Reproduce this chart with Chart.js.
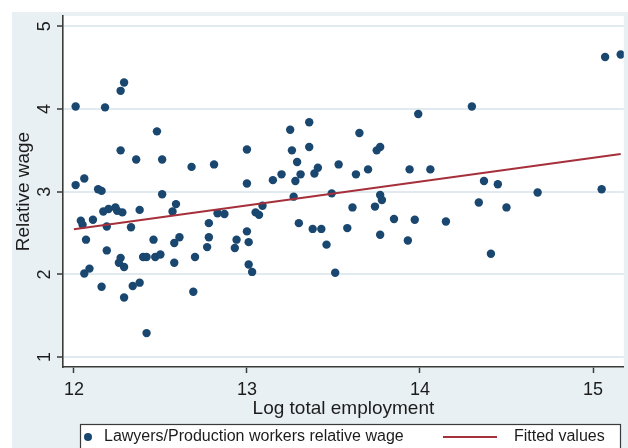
<!DOCTYPE html>
<html>
<head>
<meta charset="utf-8">
<title>Relative wage and city size</title>
<script src="https://cdn.jsdelivr.net/npm/chart.js@4.4.1/dist/chart.umd.min.js"></script>
<style>
  html, body { margin: 0; padding: 0; background: #ffffff; }
  #wrap { width: 628px; height: 448px; }
</style>
</head>
<body>
<div id="wrap"><canvas id="c" width="628" height="448"></canvas></div>
<script>
// Log total employment (x) and lawyers/production workers relative wage (y)
const logEmployment = [
  12.01, 12.18, 12.27, 12.29, 12.48, 12.27, 12.36, 12.51, 12.68, 12.81,
  12.01, 12.06, 12.14, 12.16, 12.51, 13.00, 13.00, 13.15, 13.20, 13.25,
  13.36, 13.26, 13.36, 13.29, 13.31, 13.28, 13.39, 13.41, 13.27, 13.53,
  13.49, 13.63, 13.65, 13.70, 13.75, 13.77, 13.77, 13.78, 13.94, 13.99,
  14.06, 14.30, 14.37, 14.45, 14.68, 15.05, 15.07, 15.16, 13.97, 13.93,
  14.15, 14.34, 14.50, 14.41, 13.61, 13.74, 13.85, 13.58, 13.77, 13.51,
  13.05, 13.07, 13.09, 13.30, 13.38, 13.43, 13.46, 13.00, 13.01, 13.01,
  13.03, 12.83, 12.87, 12.78, 12.78, 12.77, 12.94, 12.93, 12.70, 12.04,
  12.05, 12.11, 12.07, 12.06, 12.09, 12.17, 12.20, 12.24, 12.25, 12.28,
  12.19, 12.38, 12.33, 12.19, 12.27, 12.26, 12.29, 12.16, 12.29, 12.34,
  12.38, 12.40, 12.42, 12.42, 12.46, 12.47, 12.50, 12.58, 12.61, 12.58,
  12.57, 12.59, 12.69
];
const relativeWage = [
  4.03, 4.02, 4.22, 4.32, 3.73, 3.50, 3.39, 3.39, 3.30, 3.33,
  3.08, 3.16, 3.03, 3.01, 2.97, 3.51, 3.10, 3.14, 3.21, 3.75,
  3.84, 3.50, 3.54, 3.36, 3.21, 3.13, 3.22, 3.29, 2.94, 3.33,
  2.98, 3.21, 3.71, 3.27, 3.50, 3.54, 2.96, 2.90, 3.27, 3.94,
  3.27, 4.03, 3.13, 3.09, 2.99, 3.03, 4.63, 4.66, 2.66, 2.41,
  2.64, 2.87, 2.81, 2.25, 2.81, 2.82, 2.67, 2.56, 2.48, 2.02,
  2.75, 2.72, 2.83, 2.62, 2.55, 2.55, 2.36, 2.52, 2.39, 2.12,
  2.03, 2.74, 2.73, 2.62, 2.45, 2.33, 2.42, 2.32, 2.21, 2.65,
  2.60, 2.66, 2.42, 2.01, 2.07, 2.76, 2.79, 2.81, 2.77, 2.75,
  2.58, 2.78, 2.57, 2.29, 2.20, 2.14, 2.09, 1.85, 1.72, 1.86,
  1.90, 2.21, 2.21, 1.29, 2.42, 2.21, 2.24, 2.38, 2.45, 2.14,
  2.76, 2.85, 1.79
];

// Fitted values: endpoints of the least-squares line
const fitX = [12.0, 15.16];
const fitY = [2.545, 3.455];

// Axis ticks
const xTicks = [12, 13, 14, 15];
const yTicks = [1, 2, 3, 4, 5];

const seriesLabels = ['Lawyers/Production workers relative wage', 'Fitted values'];

const FONT = '"Liberation Sans", Arial, Helvetica, sans-serif';
const NAVY = '#1a476f';
const MAROON = '#a5303b';
const REGION = '#e8f0f3';
const GRID = '#e1eaef';
const INK = '#1c1c1c';
const AXIS = '#3a3a3a';

const scatterPoints = logEmployment.map((x, i) => ({ x: x, y: relativeWage[i] }));
const fitPoints = fitX.map((x, i) => ({ x: x, y: fitY[i] }));

// Graph region and plot region backgrounds
const backgroundPlugin = {
  id: 'regions',
  beforeDraw(chart) {
    const { ctx, chartArea } = chart;
    ctx.save();
    ctx.fillStyle = '#ffffff';
    ctx.fillRect(0, 0, chart.width, chart.height);
    ctx.fillStyle = REGION;
    ctx.fillRect(12, 12, chart.width - 12, chart.height - 12);
    ctx.fillStyle = '#ffffff';
    ctx.fillRect(chartArea.left, chartArea.top, chartArea.right - chartArea.left, chartArea.bottom - chartArea.top);
    ctx.restore();
  }
};

// Rotated y tick labels and the boxed legend
const labelsPlugin = {
  id: 'labels',
  afterDraw(chart) {
    const { ctx } = chart;
    const yScale = chart.scales.y;
    ctx.save();
    ctx.fillStyle = INK;
    ctx.font = '18px ' + FONT;
    ctx.textAlign = 'center';
    ctx.textBaseline = 'middle';
    yTicks.forEach(v => {
      const py = yScale.getPixelForValue(v);
      ctx.save();
      ctx.translate(45, py);
      ctx.rotate(-Math.PI / 2);
      ctx.fillText(String(v), 0, 0);
      ctx.restore();
    });

    // legend box
    const boxL = 80, boxT = 424, boxR = 620, boxB = 470;
    ctx.fillStyle = '#ffffff';
    ctx.fillRect(boxL, boxT, boxR - boxL, boxB - boxT);
    ctx.strokeStyle = AXIS;
    ctx.lineWidth = 1.2;
    ctx.strokeRect(boxL + 0.5, boxT + 0.5, boxR - boxL, boxB - boxT);

    const ly = 437;
    const ds = chart.data.datasets;
    ctx.fillStyle = ds[0].backgroundColor;
    ctx.beginPath();
    ctx.arc(88, ly, 4, 0, Math.PI * 2);
    ctx.fill();

    ctx.strokeStyle = ds[1].borderColor;
    ctx.lineWidth = 2;
    ctx.beginPath();
    ctx.moveTo(443, ly);
    ctx.lineTo(497, ly);
    ctx.stroke();

    ctx.fillStyle = INK;
    ctx.font = '16px ' + FONT;
    ctx.textAlign = 'left';
    ctx.textBaseline = 'middle';
    ctx.fillText(ds[0].label, 104, ly);
    ctx.fillText(ds[1].label, 514, ly);
    ctx.restore();
  }
};

new Chart(document.getElementById('c'), {
  type: 'scatter',
  data: {
    datasets: [
      {
        label: seriesLabels[0],
        data: scatterPoints,
        backgroundColor: NAVY,
        borderColor: NAVY,
        borderWidth: 0,
        pointRadius: 4.2,
        pointHoverRadius: 4.2,
        order: 2
      },
      {
        label: seriesLabels[1],
        type: 'line',
        data: fitPoints,
        borderColor: MAROON,
        backgroundColor: MAROON,
        borderWidth: 2,
        pointRadius: 0,
        fill: false,
        tension: 0,
        order: 1
      }
    ]
  },
  options: {
    responsive: false,
    devicePixelRatio: 1,
    animation: false,
    events: [],
    layout: { padding: { top: 16, left: 0, right: 0, bottom: 0 } },
    plugins: {
      legend: { display: false },
      tooltip: { enabled: false }
    },
    scales: {
      x: {
        type: 'linear',
        position: 'bottom',
        min: 11.937,
        max: 15.178,
        afterBuildTicks(scale) { scale.ticks = xTicks.map(v => ({ value: v })); },
        afterFit(scale) { scale.height = 81; },
        ticks: {
          color: INK,
          font: { family: FONT, size: 18 },
          padding: 6,
          maxRotation: 0,
          autoSkip: false
        },
        grid: {
          display: true,
          drawOnChartArea: false,
          drawTicks: true,
          tickLength: 6,
          tickColor: AXIS,
          tickWidth: 1.5
        },
        border: { display: true, color: AXIS, width: 1.6 },
        title: {
          display: true,
          text: 'Log total employment',
          color: INK,
          font: { family: FONT, size: 19 },
          padding: { top: 0, bottom: 27.6 }
        }
      },
      y: {
        type: 'linear',
        position: 'left',
        min: 0.88,
        max: 5.125,
        afterBuildTicks(scale) { scale.ticks = yTicks.map(v => ({ value: v })); },
        afterFit(scale) { scale.width = 63; },
        ticks: { display: false },
        grid: {
          display: true,
          drawOnChartArea: true,
          color: GRID,
          lineWidth: 2,
          drawTicks: true,
          tickLength: 6,
          tickColor: AXIS,
          tickWidth: 1.5
        },
        border: { display: true, color: AXIS, width: 1.6 },
        title: {
          display: true,
          text: 'Relative wage',
          color: INK,
          font: { family: FONT, size: 19 },
          padding: { top: 12.6, bottom: 0 }
        }
      }
    }
  },
  plugins: [backgroundPlugin, labelsPlugin]
});
</script>
</body>
</html>
